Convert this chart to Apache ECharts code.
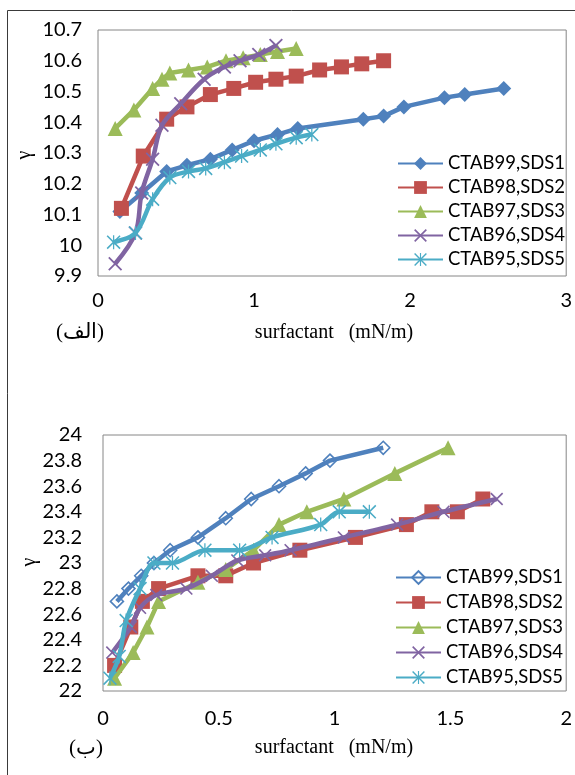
<!DOCTYPE html>
<html>
<head>
<meta charset="utf-8">
<script src="https://cdn.jsdelivr.net/npm/echarts@6/dist/echarts.min.js"></script>
<style>
  html, body { margin: 0; padding: 0; background: #fff; }
  #chart { width: 575px; height: 775px; }
</style>
</head>
<body>
<div id="chart"></div>
<script>
// ---- Series labels ----
const seriesNames = ['CTAB99,SDS1', 'CTAB98,SDS2', 'CTAB97,SDS3', 'CTAB96,SDS4', 'CTAB95,SDS5'];

// ---- Panel (الف): γ vs surfactant ----
const a99x = [0.14, 0.28, 0.44, 0.57, 0.72, 0.86, 1.00, 1.15, 1.28, 1.70, 1.83, 1.96, 2.22, 2.35, 2.60];
const a99y = [10.11, 10.17, 10.24, 10.26, 10.28, 10.31, 10.34, 10.36, 10.38, 10.41, 10.42, 10.45, 10.48, 10.49, 10.51];
const a98x = [0.15, 0.29, 0.44, 0.57, 0.72, 0.87, 1.01, 1.14, 1.27, 1.42, 1.56, 1.69, 1.83];
const a98y = [10.12, 10.29, 10.41, 10.45, 10.49, 10.51, 10.53, 10.54, 10.55, 10.57, 10.58, 10.59, 10.60];
const a97x = [0.11, 0.23, 0.35, 0.41, 0.46, 0.58, 0.70, 0.82, 0.93, 1.04, 1.15, 1.27];
const a97y = [10.38, 10.44, 10.51, 10.54, 10.56, 10.57, 10.58, 10.60, 10.61, 10.62, 10.63, 10.64];
const a96x = [0.11, 0.24, 0.28, 0.35, 0.41, 0.53, 0.68, 0.81, 0.91, 1.03, 1.14];
const a96y = [9.94, 10.04, 10.17, 10.28, 10.39, 10.46, 10.54, 10.58, 10.60, 10.62, 10.65];
const a95x = [0.10, 0.24, 0.35, 0.46, 0.58, 0.69, 0.81, 0.92, 1.04, 1.14, 1.27, 1.37];
const a95y = [10.01, 10.04, 10.15, 10.22, 10.24, 10.25, 10.27, 10.29, 10.31, 10.33, 10.35, 10.36];

// ---- Panel (ب): γ vs surfactant ----
const b99x = [0.06, 0.11, 0.165, 0.22, 0.29, 0.41, 0.53, 0.64, 0.76, 0.875, 0.98, 1.21];
const b99y = [22.7, 22.8, 22.9, 23.0, 23.1, 23.2, 23.35, 23.5, 23.6, 23.7, 23.8, 23.9];
const b98x = [0.05, 0.12, 0.17, 0.24, 0.41, 0.53, 0.65, 0.85, 1.09, 1.31, 1.42, 1.53, 1.64];
const b98y = [22.2, 22.5, 22.7, 22.8, 22.9, 22.9, 23.0, 23.1, 23.2, 23.3, 23.4, 23.4, 23.5];
const b97x = [0.05, 0.13, 0.19, 0.24, 0.41, 0.53, 0.65, 0.76, 0.88, 1.04, 1.26, 1.49];
const b97y = [22.1, 22.3, 22.5, 22.7, 22.85, 22.95, 23.1, 23.3, 23.4, 23.5, 23.7, 23.9];
const b96x = [0.04, 0.12, 0.16, 0.23, 0.36, 0.47, 0.58, 0.70, 0.81, 1.04, 1.27, 1.47, 1.70];
const b96y = [22.3, 22.5, 22.65, 22.75, 22.8, 22.9, 23.02, 23.06, 23.1, 23.2, 23.3, 23.4, 23.5];
const b95x = [0.03, 0.07, 0.10, 0.16, 0.22, 0.30, 0.44, 0.59, 0.73, 0.94, 1.02, 1.15];
const b95y = [22.1, 22.27, 22.55, 22.8, 23.0, 23.0, 23.1, 23.1, 23.2, 23.3, 23.4, 23.4];

// ---- Axis ranges ----
const topXTicks = { min: 0, max: 3, interval: 1 };
const topYTicks = { min: 9.9, max: 10.7, interval: 0.1 };
const botXTicks = { min: 0, max: 2, interval: 0.5 };
const botYTicks = { min: 22, max: 24, interval: 0.2 };

// ---- Styling ----
const colors = ['#4F81BD', '#C0504D', '#9BBB59', '#8064A2', '#4BACC6'];
const TICK_FONT = 'Lato, "Open Sans", sans-serif';
const SERIF = '"Liberation Serif", "DejaVu Serif", serif';

// cross and asterisk marker outlines
const crossPath = 'path://M0,1.8L1.8,0L10,8.2L18.2,0L20,1.8L11.8,10L20,18.2L18.2,20L10,11.8L1.8,20L0,18.2L8.2,10Z';
const starPath = 'path://M0,1.6L1.6,0L20,18.4L18.4,20Z M18.4,0L20,1.6L1.6,20L0,18.4Z M9.1,0L10.9,0L10.9,20L9.1,20Z';

const zip = (xs, ys) => xs.map((x, i) => [x, ys[i]]);

function lineSeries(name, idx, xs, ys, axisIdx, marker) {
  return {
    type: 'line',
    name: name,
    xAxisIndex: axisIdx,
    yAxisIndex: axisIdx,
    data: zip(xs, ys),
    smooth: marker.smooth || false,
    symbol: marker.symbol,
    symbolSize: marker.size,
    showAllSymbol: true,
    lineStyle: { color: colors[idx], width: 4.5 },
    itemStyle: marker.hollow
      ? { color: 'rgba(255,255,255,0)', borderColor: colors[idx], borderWidth: 1.6 }
      : { color: colors[idx], borderWidth: 0 },
    emphasis: { disabled: true },
    z: 2 + idx
  };
}

const topMarkers = [
  { symbol: 'diamond', size: 15 },
  { symbol: 'rect', size: 15 },
  { symbol: 'triangle', size: 15 },
  { symbol: crossPath, size: 14, smooth: 0.35 },
  { symbol: starPath, size: 14, smooth: 0.35 }
];
const botMarkers = [
  { symbol: 'diamond', size: 13, hollow: true },
  { symbol: 'rect', size: 15 },
  { symbol: 'triangle', size: 15 },
  { symbol: crossPath, size: 13, smooth: 0.3 },
  { symbol: starPath, size: 14, smooth: 0.3 }
];

const topData = [[a99x, a99y], [a98x, a98y], [a97x, a97y], [a96x, a96y], [a95x, a95y]];
const botData = [[b99x, b99y], [b98x, b98y], [b97x, b97y], [b96x, b96y], [b95x, b95y]];

// second panel series get a trailing space so each legend finds its own series
const botNames = seriesNames.map(n => n + ' ');

const series = [];
topData.forEach((d, i) => series.push(lineSeries(seriesNames[i], i, d[0], d[1], 0, topMarkers[i])));
botData.forEach((d, i) => series.push(lineSeries(botNames[i], i, d[0], d[1], 1, botMarkers[i])));

function valueAxis(gridIndex, ticks, labelMargin) {
  return {
    type: 'value',
    gridIndex: gridIndex,
    min: ticks.min,
    max: ticks.max,
    interval: ticks.interval,
    axisLine: { show: false },
    axisTick: { show: false },
    splitLine: { show: false },
    axisLabel: { fontFamily: TICK_FONT, fontSize: 20, color: '#000', margin: labelMargin }
  };
}

function legendBlock(names, left, top, gap) {
  return {
    data: names,
    orient: 'vertical',
    left: left,
    top: top,
    padding: 0,
    itemWidth: 45,
    itemHeight: 16,
    itemGap: gap,
    selectedMode: false,
    textStyle: { fontFamily: TICK_FONT, fontSize: 18.5, color: '#000' }
  };
}

function label(text, x, y, font, rotation) {
  return {
    type: 'text',
    x: x, y: y,
    rotation: rotation || 0,
    style: { text: text, font: font, fill: '#000', align: 'center', verticalAlign: 'middle' },
    z: 10
  };
}

const option = {
  animation: false,
  backgroundColor: '#fff',
  grid: [
    { left: 98, top: 30, width: 472, height: 246, show: true, borderColor: '#868686', borderWidth: 1 },
    { left: 103, top: 435, width: 469, height: 256, show: true, borderColor: '#868686', borderWidth: 1 }
  ],
  xAxis: [valueAxis(0, topXTicks, 15), valueAxis(1, botXTicks, 18)],
  yAxis: [valueAxis(0, topYTicks, 16), valueAxis(1, botYTicks, 21)],
  legend: [
    legendBlock(seriesNames, 397, 154, 5),
    legendBlock(botNames, 395, 568, 6)
  ],
  graphic: [
    { type: 'rect', shape: { x: 7.5, y: 10.5, width: 700, height: 900 },
      style: { fill: 'none', stroke: '#3a3a3a', lineWidth: 1 }, z: 0 },
    label('γ', 25, 155, '20px ' + SERIF, Math.PI / 2),
    label('surfactant   (mN/m)', 334, 333, '20px ' + SERIF),
    label('(الف)', 80, 332, '21px ' + SERIF),
    label('γ', 30, 562, '20px ' + SERIF, Math.PI / 2),
    label('surfactant   (mN/m)', 334, 748, '20px ' + SERIF),
    label('(ب)', 86, 748, '21px ' + SERIF)
  ],
  series: series
};

const chart = echarts.init(document.getElementById('chart'), null, { renderer: 'canvas' });
chart.setOption(option);
</script>
</body>
</html>
